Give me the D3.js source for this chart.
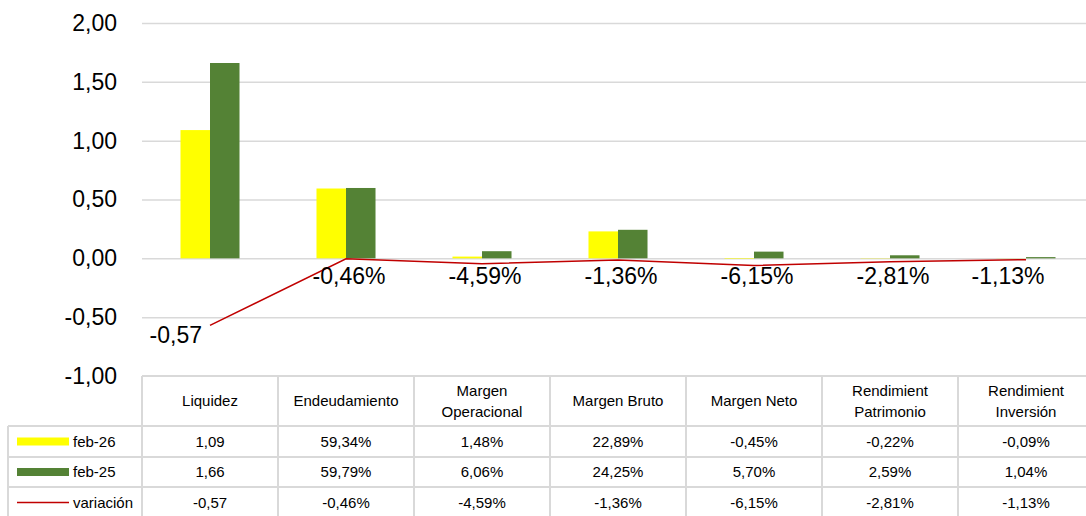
<!DOCTYPE html>
<html>
<head>
<meta charset="utf-8">
<script src="https://cdn.jsdelivr.net/npm/d3@7"></script>
<style>
  body { margin: 0; background: #fff; }
  svg { display: block; font-family: "Liberation Sans", Arial, sans-serif; }
</style>
</head>
<body>
<div id="chart"></div>
<script>
// data
let categories = ["Liquidez", "Endeudamiento", "Margen Operacional", "Margen Bruto", "Margen Neto", "Rendimient Patrimonio", "Rendimient Inversión"];
let headerLines = [["Liquidez"], ["Endeudamiento"], ["Margen", "Operacional"], ["Margen Bruto"], ["Margen Neto"], ["Rendimient", "Patrimonio"], ["Rendimient", "Inversión"]];
let valueKind = ["num", "pct", "pct", "pct", "pct", "pct", "pct"];
let feb26 = [1.09, 0.5934, 0.0148, 0.2289, -0.0045, -0.0022, -0.0009];
let feb25 = [1.66, 0.5979, 0.0606, 0.2425, 0.0570, 0.0259, 0.0104];
let variacion = [-0.57, -0.0046, -0.0459, -0.0136, -0.0615, -0.0281, -0.0113];
let seriesNames = ["feb-26", "feb-25", "variación"];
let yTicks = [-1, -0.5, 0, 0.5, 1, 1.5, 2];

let svgWidth = 1086;
let svgHeight = 516;

// plot area
let plot = { left: 142, right: 1094, top: 23, bottom: 376 };
let rowY = [376, 426, 457, 487, 518];

let esLocale = d3.formatLocale({ decimal: ",", thousands: ".", grouping: [3], currency: ["", "€"], minus: "-" });
let fmtNum = esLocale.format(".2f");
let fmtPct = esLocale.format(".2%");
let fmt = (v, i) => valueKind[i] === "num" ? fmtNum(v) : fmtPct(v);

let svg = d3.select("#chart").append("svg")
    .attr("width", svgWidth)
    .attr("height", svgHeight);

svg.append("rect").attr("width", svgWidth).attr("height", svgHeight).attr("fill", "#fff");

let x = d3.scaleBand().domain(categories).range([plot.left, plot.right]).padding(0);
let bw = x.bandwidth();
let xInner = d3.scaleBand().domain(["feb-26", "feb-25"]).range([bw * 0.283, bw * 0.717]).padding(0);
let y = d3.scaleLinear().domain([-1, 2]).range([plot.bottom, plot.top]);

// gridlines
svg.append("g")
    .attr("transform", `translate(${plot.left},0)`)
    .call(d3.axisLeft(y).tickValues(yTicks.filter(t => t > -1)).tickSize(-(svgWidth - plot.left)).tickFormat(""))
    .call(g => g.select(".domain").remove())
    .call(g => g.selectAll("line").attr("stroke", "#d9d9d9").attr("stroke-width", 1.5));

// y axis labels
svg.append("g")
    .attr("transform", `translate(${plot.left},0)`)
    .call(d3.axisLeft(y).tickValues(yTicks).tickSize(0).tickPadding(25).tickFormat(fmtNum))
    .call(g => g.select(".domain").remove())
    .call(g => g.selectAll("text").attr("font-size", 23).attr("fill", "#000")
        .attr("font-family", "'Liberation Sans', Arial, sans-serif"));

// bars
let barData = [];
categories.forEach((c, i) => {
    barData.push({ cat: c, s: "feb-26", v: feb26[i], color: "#ffff00" });
    barData.push({ cat: c, s: "feb-25", v: feb25[i], color: "#548235" });
});

svg.append("g").selectAll("rect")
    .data(barData)
    .enter()
    .append("rect")
    .attr("x", d => x(d.cat) + xInner(d.s))
    .attr("width", xInner.bandwidth())
    .attr("y", d => y(Math.max(0, d.v)))
    .attr("height", d => Math.abs(y(d.v) - y(0)))
    .attr("fill", d => d.color);

// variation line
let line = d3.line()
    .x((d, i) => x(categories[i]) + bw / 2)
    .y(d => y(d));

svg.append("path")
    .datum(variacion)
    .attr("d", line)
    .attr("fill", "none")
    .attr("stroke", "#c00000")
    .attr("stroke-width", 1.5);

// line labels
svg.append("g").selectAll("text")
    .data(variacion)
    .enter()
    .append("text")
    .attr("x", (d, i) => {
        let cx = x(categories[i]) + bw / 2;
        if (i === 0) return cx - 8;
        return Math.min(cx + 3, svgWidth - 78);
    })
    .attr("y", (d, i) => i === 0 ? y(d) + 18 : y(0) + 26)
    .attr("text-anchor", (d, i) => i === 0 ? "end" : "middle")
    .attr("font-size", 23)
    .attr("fill", "#000")
    .text((d, i) => fmt(d, i));

// data table
let tableColor = "#d9d9d9";
let table = svg.append("g");

// horizontal lines
table.append("line").attr("x1", plot.left).attr("x2", svgWidth).attr("y1", rowY[0]).attr("y2", rowY[0])
    .attr("stroke", tableColor).attr("stroke-width", 2);
rowY.slice(1, 4).forEach(yy => {
    table.append("line").attr("x1", 8).attr("x2", svgWidth).attr("y1", yy).attr("y2", yy)
        .attr("stroke", tableColor).attr("stroke-width", 2);
});

// vertical lines
categories.forEach(c => {
    table.append("line").attr("x1", x(c)).attr("x2", x(c)).attr("y1", rowY[0]).attr("y2", svgHeight)
        .attr("stroke", tableColor).attr("stroke-width", 2);
});
table.append("line").attr("x1", 8).attr("x2", 8).attr("y1", rowY[1]).attr("y2", svgHeight)
    .attr("stroke", tableColor).attr("stroke-width", 2);

// header text
categories.forEach((c, i) => {
    let lines = headerLines[i];
    let cy = (rowY[0] + rowY[1]) / 2;
    let t = table.append("text")
        .attr("text-anchor", "middle")
        .attr("font-size", 15)
        .attr("fill", "#000");
    lines.forEach((ln, k) => {
        t.append("tspan")
            .attr("x", x(c) + bw / 2)
            .attr("y", cy + 5 + (k - (lines.length - 1) / 2) * 21)
            .text(ln);
    });
});

// rows
let rows = [feb26, feb25, variacion];
rows.forEach((vals, r) => {
    let cy = (rowY[r + 1] + rowY[r + 2]) / 2;
    vals.forEach((v, i) => {
        table.append("text")
            .attr("x", x(categories[i]) + bw / 2)
            .attr("y", cy + 5)
            .attr("text-anchor", "middle")
            .attr("font-size", 15)
            .attr("fill", "#000")
            .text(fmt(v, i));
    });
    // legend key
    if (r < 2) {
        table.append("rect")
            .attr("x", 17).attr("y", cy - 4)
            .attr("width", 52).attr("height", 8)
            .attr("fill", r === 0 ? "#ffff00" : "#548235");
    } else {
        table.append("line")
            .attr("x1", 17).attr("x2", 69).attr("y1", cy).attr("y2", cy)
            .attr("stroke", "#c00000").attr("stroke-width", 1.5);
    }
    table.append("text")
        .attr("x", 73)
        .attr("y", cy + 5)
        .attr("font-size", 15)
        .attr("fill", "#000")
        .text(seriesNames[r]);
});
</script>
</body>
</html>
